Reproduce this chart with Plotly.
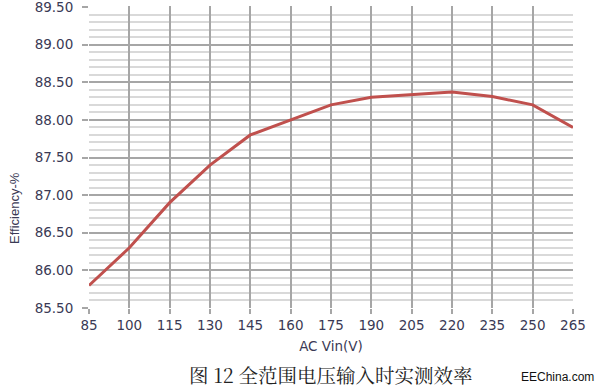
import plotly.graph_objects as go

vin = [85, 100, 115, 130, 145, 160, 175, 190, 205, 220, 235, 250, 265]
efficiency = [85.80, 86.30, 86.90, 87.40, 87.80, 88.00, 88.20, 88.30, 88.34, 88.37, 88.31, 88.20, 87.90]
x_ticks = [85, 100, 115, 130, 145, 160, 175, 190, 205, 220, 235, 250, 265]
y_ticks = [85.5, 86.0, 86.5, 87.0, 87.5, 88.0, 88.5, 89.0, 89.5]

tick_font = dict(family="DejaVu Sans, Verdana, sans-serif", size=13.5, color="#3a3a55")

fig = go.Figure()
fig.add_trace(go.Scatter(
    x=vin, y=efficiency, mode="lines",
    line=dict(color="#C0504D", width=3),
    showlegend=False, hoverinfo="skip",
))

M_L, M_R, M_T, M_B = 89, 27, 6, 82

fig.update_layout(
    width=600, height=390,
    margin=dict(l=M_L, r=M_R, t=M_T, b=M_B),
    paper_bgcolor="white", plot_bgcolor="white",
    xaxis=dict(
        range=[85, 265], tickvals=x_ticks, ticktext=[str(v) for v in x_ticks],
        showgrid=True, gridcolor="#a6a6a6", gridwidth=1.5,
        zeroline=False, showline=False, automargin=False,
        ticks="outside", ticklen=5, tickcolor="#a6a6a6", tickwidth=1.5,
        tickfont=tick_font,
        title=dict(text="AC Vin(V)", font=dict(family="DejaVu Sans, Verdana, sans-serif", size=13.5, color="#3a3a55"), standoff=9),
    ),
    yaxis=dict(
        range=[85.5, 89.5133], tickvals=y_ticks, ticktext=["%.2f" % v for v in y_ticks],
        showgrid=True, gridcolor="#a6a6a6", gridwidth=1.5,
        zeroline=False, showline=False, automargin=False,
        ticks="outside", ticklen=6, tickcolor="#a6a6a6", tickwidth=1.5,
        tickfont=tick_font, ticklabelstandoff=6, ticklabeloverflow="allow",
        minor=dict(dtick=0.1, tick0=85.5, showgrid=True, gridcolor="#d9d9d9", gridwidth=1.5),
    ),
    annotations=[
        dict(text="Efficiency-%", x=14, y=208, xref="paper", yref="paper", showarrow=False,
             textangle=-90, font=dict(family="Liberation Sans, Arial, sans-serif", size=13, color="#3a3a55"),
             xanchor="center", yanchor="middle"),
        dict(text="图 12 全范围电压输入时实测效率", x=331, y=375, xref="paper", yref="paper", showarrow=False,
             font=dict(family="Noto Serif CJK SC, Noto Sans CJK SC, serif", size=19.5, color="#222222"),
             xanchor="center", yanchor="middle"),
        dict(text="EEChina.com", x=557, y=377, xref="paper", yref="paper", showarrow=False,
             font=dict(family="Liberation Sans, Arial, sans-serif", size=12, color="#111111"),
             xanchor="center", yanchor="middle"),
    ],
)

# convert pixel annotation positions to paper coords
pw, ph = 600 - M_L - M_R, 390 - M_T - M_B
new_ann = []
for a in fig.layout.annotations:
    a.x = (a.x - M_L) / pw
    a.y = 1 - (a.y - M_T) / ph
    new_ann.append(a)
fig.layout.annotations = new_ann

fig.write_html("out.html")
